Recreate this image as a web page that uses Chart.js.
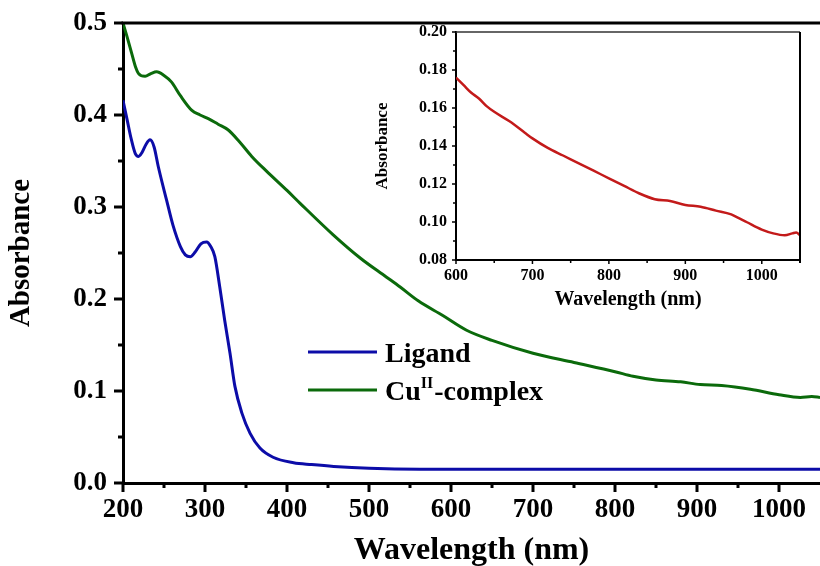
<!DOCTYPE html>
<html>
<head>
<meta charset="utf-8">
<script src="https://cdn.jsdelivr.net/npm/chart.js@4.4.1/dist/chart.umd.min.js"></script>
<style>
  html, body { margin: 0; padding: 0; background: #ffffff; }
  #wrap { position: relative; width: 820px; height: 566px; }
  #main { position: absolute; left: 0; top: 0; }
  #inset { position: absolute; left: 340px; top: 0; }
</style>
</head>
<body>
<div id="wrap">
  <canvas id="main" width="820" height="566"></canvas>
  <canvas id="inset" width="480" height="330"></canvas>
</div>
<script>
// ---------------- DATA ----------------
const ligandWavelength = [200, 205, 210, 215, 219, 223, 228, 233, 238, 243, 253, 261, 270, 276, 282, 288, 295, 302, 307, 312, 318, 324, 330.5, 336.5, 345, 355, 367, 383, 408, 430, 457, 500, 562, 700, 850, 1050];
const ligandAbsorbance = [0.416, 0.395, 0.374, 0.358, 0.355, 0.359, 0.368, 0.373, 0.365, 0.344, 0.308, 0.280, 0.257, 0.248, 0.246, 0.251, 0.260, 0.262, 0.257, 0.246, 0.213, 0.177, 0.141, 0.105, 0.076, 0.054, 0.038, 0.028, 0.022, 0.020, 0.018, 0.016, 0.015, 0.015, 0.015, 0.015];

const complexWavelength = [200, 205, 210.6, 215, 219, 227, 234, 241, 250, 259, 270, 284, 294, 304, 316, 328, 342, 357, 375, 400, 416, 456, 490, 521, 538, 560, 590, 619, 650, 700, 750, 800, 822, 850, 880, 904, 930, 965, 1000, 1026, 1040, 1050];
const complexAbsorbance = [0.500, 0.485, 0.467, 0.453, 0.445, 0.442, 0.445, 0.447, 0.443, 0.436, 0.421, 0.405, 0.400, 0.396, 0.390, 0.384, 0.371, 0.355, 0.339, 0.318, 0.304, 0.270, 0.244, 0.224, 0.213, 0.198, 0.182, 0.166, 0.155, 0.141, 0.131, 0.121, 0.116, 0.112, 0.110, 0.107, 0.106, 0.102, 0.096, 0.093, 0.094, 0.093];

const insetWavelength = [600, 610, 620, 630, 640, 650, 670, 690, 700, 720, 740, 760, 780, 800, 820, 840, 860, 880, 900, 920, 940, 960, 970, 980, 1000, 1015, 1030, 1040, 1045, 1050];
const insetAbsorbance = [0.176, 0.172, 0.168, 0.165, 0.161, 0.158, 0.153, 0.147, 0.144, 0.139, 0.135, 0.131, 0.127, 0.123, 0.119, 0.115, 0.112, 0.111, 0.109, 0.108, 0.106, 0.104, 0.102, 0.100, 0.096, 0.094, 0.093, 0.094, 0.0945, 0.093];

const seriesNames = ['Ligand', 'Cu', 'complex'];   // "Cu" + superscript "II" + "-complex"
const superscriptText = 'II';
const mainXTitle = 'Wavelength (nm)';
const mainYTitle = 'Absorbance';
const insetXTitle = 'Wavelength (nm)';
const insetYTitle = 'Absorbance';

const xRangeMain = [200, 1050];
const yRangeMain = [0, 0.5];
const xRangeInset = [600, 1050];
const yRangeInset = [0.08, 0.20];

// ---------------- STYLE ----------------
const FONT = "'Liberation Serif', 'Times New Roman', serif";
const BLUE = '#0c0ca8';
const GREEN = '#0b6a0b';
const RED = '#c31a1a';

function toXY(xs, ys) { return xs.map((x, i) => ({ x: x, y: ys[i] })); }

function fixY(width) {
  return s => { s.width = width; s.paddingTop = 0; s.paddingBottom = 0; };
}
function fixX(height) {
  return s => { s.height = height; s.paddingLeft = 0; s.paddingRight = 0; };
}

// draws outward tick marks (major + minor) and extra frame lines
function tickPlugin(cfg) {
  return {
    id: 'ticks_' + cfg.id,
    afterDraw(chart) {
      const ctx = chart.ctx;
      const ca = chart.chartArea;
      const xs = chart.scales.x, ys = chart.scales.y;
      ctx.save();
      ctx.strokeStyle = '#000';
      ctx.lineCap = 'butt';
      const xt = xs.ticks.map(t => t.value);
      const xStep = xt[1] - xt[0];
      xt.forEach(v => {
        const p = xs.getPixelForValue(v);
        ctx.lineWidth = cfg.tickWidth;
        ctx.beginPath(); ctx.moveTo(p, ca.bottom); ctx.lineTo(p, ca.bottom + cfg.majorLen); ctx.stroke();
        const m = v + xStep / 2;
        if (m < xs.max) {
          const pm = xs.getPixelForValue(m);
          ctx.beginPath(); ctx.moveTo(pm, ca.bottom); ctx.lineTo(pm, ca.bottom + cfg.minorLen); ctx.stroke();
        }
      });
      const yt = ys.ticks.map(t => t.value);
      const yStep = yt[1] - yt[0];
      yt.forEach(v => {
        const p = ys.getPixelForValue(v);
        ctx.lineWidth = cfg.tickWidth;
        ctx.beginPath(); ctx.moveTo(ca.left, p); ctx.lineTo(ca.left - cfg.majorLen, p); ctx.stroke();
        const m = v + yStep / 2;
        if (m < ys.max) {
          const pm = ys.getPixelForValue(m);
          ctx.beginPath(); ctx.moveTo(ca.left, pm); ctx.lineTo(ca.left - cfg.minorLen, pm); ctx.stroke();
        }
      });
      ctx.strokeStyle = cfg.topColor;
      ctx.lineWidth = cfg.topWidth;
      ctx.beginPath(); ctx.moveTo(ca.left - cfg.frameLeftExtra, ca.top); ctx.lineTo(ca.right, ca.top); ctx.stroke();
      if (cfg.rightFrame) {
        ctx.strokeStyle = '#000';
        ctx.lineWidth = cfg.rightWidth;
        ctx.beginPath(); ctx.moveTo(ca.right, ca.top); ctx.lineTo(ca.right, ca.bottom + cfg.minorLen); ctx.stroke();
      }
      ctx.restore();
    }
  };
}

const legendPlugin = {
  id: 'customLegend',
  afterDraw(chart) {
    const ctx = chart.ctx;
    ctx.save();
    const rows = [
      { color: chart.data.datasets[0].borderColor, y: 352, parts: [seriesNames[0]] },
      { color: chart.data.datasets[1].borderColor, y: 390, parts: [seriesNames[1], superscriptText, '-' + seriesNames[2]] }
    ];
    rows.forEach(r => {
      ctx.strokeStyle = r.color;
      ctx.lineWidth = 3;
      ctx.beginPath(); ctx.moveTo(308, r.y); ctx.lineTo(377, r.y); ctx.stroke();
      ctx.fillStyle = '#000';
      ctx.textBaseline = 'alphabetic';
      let x = 385;
      const base = r.y + 10;
      r.parts.forEach((t, i) => {
        const sup = r.parts.length > 1 && i === 1;
        ctx.font = 'bold ' + (sup ? 16 : 28) + 'px ' + FONT;
        ctx.fillText(t, x, sup ? base - 12 : base);
        x += ctx.measureText(t).width + (sup ? 1 : 0);
      });
    });
    ctx.restore();
  }
};

// ---------------- MAIN CHART ----------------
new Chart(document.getElementById('main'), {
  type: 'line',
  data: {
    datasets: [
      { label: 'Ligand', data: toXY(ligandWavelength, ligandAbsorbance), borderColor: BLUE, borderWidth: 3, pointRadius: 0, cubicInterpolationMode: 'monotone', fill: false },
      { label: 'CuII-complex', data: toXY(complexWavelength, complexAbsorbance), borderColor: GREEN, borderWidth: 3, pointRadius: 0, cubicInterpolationMode: 'monotone', fill: false }
    ]
  },
  options: {
    responsive: false,
    animation: false,
    events: [],
    layout: { padding: { left: 0, top: 23, right: 0, bottom: 0 } },
    plugins: { legend: { display: false }, tooltip: { enabled: false } },
    scales: {
      x: {
        type: 'linear', min: xRangeMain[0], max: xRangeMain[1],
        grid: { display: false, drawTicks: false },
        border: { display: true, color: '#000', width: 3 },
        ticks: { stepSize: 100, includeBounds: false, padding: 11, color: '#000',
                 font: { family: FONT, size: 27, weight: 'bold' }, maxRotation: 0,
                 callback: v => String(v) },
        title: { display: true, text: mainXTitle, color: '#000', font: { family: FONT, size: 32, weight: 'bold', lineHeight: 1 }, padding: { top: 0, bottom: -1 } },
        afterFit: fixX(83)
      },
      y: {
        type: 'linear', min: yRangeMain[0], max: yRangeMain[1],
        grid: { display: false, drawTicks: false },
        border: { display: true, color: '#000', width: 3 },
        ticks: { stepSize: 0.1, padding: 16, color: '#000',
                 font: { family: FONT, size: 27, weight: 'bold' },
                 callback: v => Number(v).toFixed(1) },
        title: { display: true, text: mainYTitle, color: '#000', font: { family: FONT, size: 29, weight: 'bold', lineHeight: 1 }, padding: { top: 7, bottom: 0 } },
        afterFit: fixY(123)
      }
    }
  },
  plugins: [tickPlugin({ id: 'main', majorLen: 9, minorLen: 5, tickWidth: 3, topColor: '#000', topWidth: 3, frameLeftExtra: 1.5, rightFrame: false }), legendPlugin]
});

// ---------------- INSET CHART ----------------
new Chart(document.getElementById('inset'), {
  type: 'line',
  data: {
    datasets: [
      { label: 'Inset', data: toXY(insetWavelength, insetAbsorbance), borderColor: RED, borderWidth: 2.5, pointRadius: 0, cubicInterpolationMode: 'monotone', fill: false }
    ]
  },
  options: {
    responsive: false,
    animation: false,
    events: [],
    layout: { padding: { left: 0, top: 32, right: 20, bottom: 0 } },
    plugins: { legend: { display: false }, tooltip: { enabled: false } },
    scales: {
      x: {
        type: 'linear', min: xRangeInset[0], max: xRangeInset[1],
        grid: { display: false, drawTicks: false },
        border: { display: true, color: '#000', width: 2 },
        ticks: { stepSize: 100, includeBounds: false, padding: 6, color: '#000',
                 font: { family: FONT, size: 16, weight: 'bold' }, maxRotation: 0,
                 callback: v => String(v) },
        title: { display: true, text: insetXTitle, color: '#000', font: { family: FONT, size: 20, weight: 'bold', lineHeight: 1 }, padding: { top: 0, bottom: 20 } },
        afterFit: fixX(70)
      },
      y: {
        type: 'linear', min: yRangeInset[0], max: yRangeInset[1],
        grid: { display: false, drawTicks: false },
        border: { display: true, color: '#000', width: 2 },
        ticks: { stepSize: 0.02, padding: 9, color: '#000',
                 font: { family: FONT, size: 16, weight: 'bold' },
                 callback: v => Number(v).toFixed(2) },
        title: { display: true, text: insetYTitle, color: '#000', font: { family: FONT, size: 17, weight: 'bold', lineHeight: 1 }, padding: { top: 34, bottom: 0 } },
        afterFit: fixY(116)
      }
    }
  },
  plugins: [tickPlugin({ id: 'inset', majorLen: 4, minorLen: 3, tickWidth: 1.5, topColor: '#333', topWidth: 1.5, frameLeftExtra: 0, rightFrame: true, rightWidth: 2 })]
});
</script>
</body>
</html>
